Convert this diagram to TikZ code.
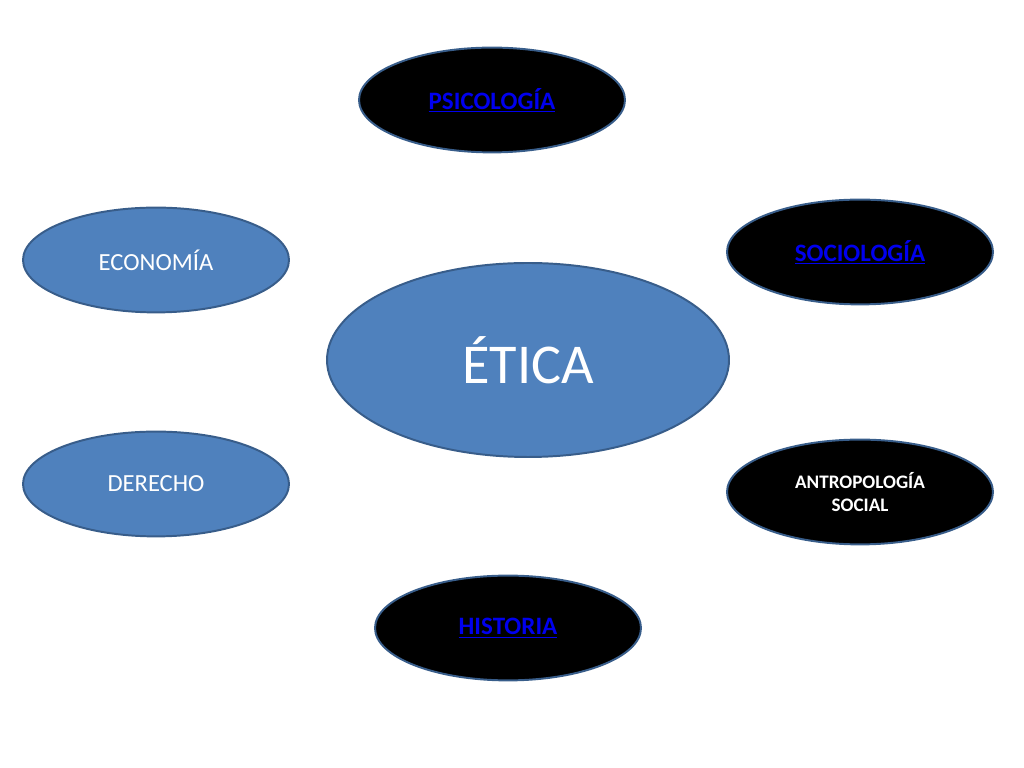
\documentclass[tikz,border=0pt]{standalone}
\usepackage{fontspec}
\setmainfont{Carlito}
\usepackage[usenames,dvipsnames]{xcolor}
\usepackage{tkz-euclide}
\usetikzlibrary{calc,shapes.geometric}

\definecolor{fillblue}{HTML}{4F81BD}
\definecolor{edgeblue}{HTML}{385D8A}
\definecolor{linkblue}{HTML}{0000EE}

\tikzset{
  topic/.style={ellipse, draw=edgeblue, line width=1.4pt, inner sep=0pt,
    minimum width=6.65cm, minimum height=2.62cm, align=center},
  bluetopic/.style={topic, fill=fillblue, text=white,
    font=\fontsize{17.5}{21}\selectfont},
  darktopic/.style={topic, fill=black, text=linkblue,
    font=\fontsize{17.8}{21}\selectfont\bfseries}
}

\begin{document}
\begin{tikzpicture}

\useasboundingbox (0,0) rectangle (25.6,19.2);

\tkzDefPoint(12.3,16.7){P}
\tkzDefPoint(3.9,12.7){Ec}
\tkzDefPoint(21.5,12.9){S}
\tkzDefPoint(13.2,10.2){Et}
\tkzDefPoint(3.9,7.1){D}
\tkzDefPoint(21.5,6.9){An}
\tkzDefPoint(12.7,3.5){H}

\node[darktopic] (psico) at (P) {\underline{PSICOLOGÍA}};
\node[bluetopic] (econ) at (Ec) {ECONOMÍA};
\node[darktopic] (socio) at (S) {\underline{SOCIOLOGÍA}};
\node[bluetopic, minimum width=10.05cm, minimum height=4.85cm,
  font=\fontsize{40}{48}\selectfont] (etica) at (Et) {ÉTICA};
\node[bluetopic] (derecho) at (D) {DERECHO};
\node[darktopic, text=white, font=\fontsize{13.6}{17}\selectfont\bfseries]
  (antro) at (An) {ANTROPOLOGÍA\\SOCIAL};
\node[darktopic] (historia) at (H) {\underline{HISTORIA}};

\end{tikzpicture}
\end{document}
